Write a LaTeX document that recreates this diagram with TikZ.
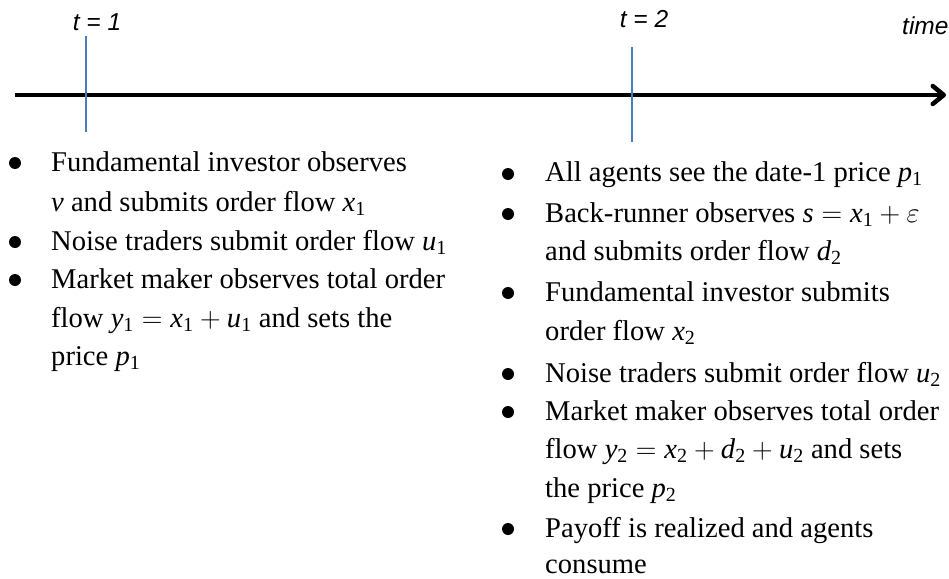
\RequirePackage{fix-cm}
\documentclass[tikz,border=0pt]{standalone}
\usepackage{fontspec}
\setmainfont{Liberation Serif}
\newfontfamily\arialfont{Liberation Sans}
\usetikzlibrary{arrows.meta}
\definecolor{tickblue}{HTML}{4A7EBB}
\newcommand{\V}[2]{\mathit{#1}_{\mathrm{#2}}}
\newcommand{\W}[1]{\mathit{#1}}
\tikzset{
  txt/.style={anchor=base west, inner sep=0pt, font=\fontsize{28.6}{38}\selectfont},
  bul/.style={circle, fill=black, inner sep=0pt, minimum size=12pt},
  lab/.style={anchor=base, inner sep=0pt, font=\arialfont\itshape\fontsize{24.5}{28}\selectfont},
  tick/.style={draw=tickblue, line width=2pt},
  axis/.style={line width=4.5pt, -{Straight Barb[length=11pt,width=18pt,round]}}
}
\begin{document}
\begin{tikzpicture}[x=1pt,y=-1pt]
\useasboundingbox (0,0) rectangle (949,578);
% axis
\coordinate (axL) at (15,95);
\coordinate (axR) at (946,95);
\draw[axis] (axL) -- (axR);
% ticks
\coordinate (t1top) at (86,36);
\coordinate (t1bot) at (86,132);
\coordinate (t2top) at (632,47);
\coordinate (t2bot) at (632,142);
\draw[tick] (t1top) -- (t1bot);
\draw[tick] (t2top) -- (t2bot);
% labels
\node[lab] (lt1) at (97,31) {t = 1};
\node[lab] (lt2) at (644,28) {t = 2};
\node[lab, anchor=base west] (ltime) at (902,35) {time};
% left column
\node[bul] (lb1) at (15,163) {};
\node[txt] (l1a) at (51,171) {Fundamental investor observes};
\node[txt] (l1b) at (51,211) {$\W{v}$ and submits order flow $\V{x}{1}$};
\node[bul] (lb2) at (15,242) {};
\node[txt] (l2a) at (51,250) {Noise traders submit order flow $\V{u}{1}$};
\node[bul] (lb3) at (15,280) {};
\node[txt] (l3a) at (51,288) {Market maker observes total order};
\node[txt] (l3b) at (51,327) {flow $\V{y}{1} = \V{x}{1} + \V{u}{1}$ and sets the};
\node[txt] (l3c) at (51,365) {price $\V{p}{1}$};
% right column
\node[bul] (rb1) at (508,174) {};
\node[txt] (r1a) at (545,181) {All agents see the date-1 price $\V{p}{1}$};
\node[bul] (rb2) at (508,214) {};
\node[txt] (r2a) at (545,222) {Back-runner observes $\W{s} = \V{x}{1} + \varepsilon$};
\node[txt] (r2b) at (545,260) {and submits order flow $\V{d}{2}$};
\node[bul] (rb3) at (508,293) {};
\node[txt] (r3a) at (545,301) {Fundamental investor submits};
\node[txt] (r3b) at (545,340) {order flow $\V{x}{2}$};
\node[bul] (rb4) at (508,374) {};
\node[txt] (r4a) at (545,382) {Noise traders submit order flow $\V{u}{2}$};
\node[bul] (rb5) at (508,412) {};
\node[txt] (r5a) at (545,420) {Market maker observes total order};
\node[txt] (r5b) at (545,458) {flow $\V{y}{2} = \V{x}{2} + \V{d}{2} + \V{u}{2}$ and sets};
\node[txt] (r5c) at (545,497) {the price $\V{p}{2}$};
\node[bul] (rb6) at (508,529) {};
\node[txt] (r6a) at (545,537) {Payoff is realized and agents};
\node[txt] (r6b) at (545,573) {consume};
\end{tikzpicture}
\end{document}
